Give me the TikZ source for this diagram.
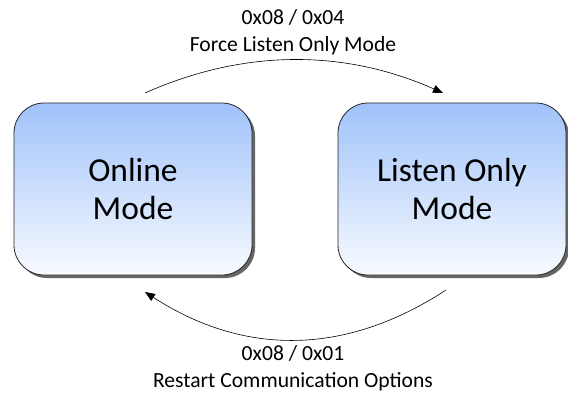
\documentclass[tikz,border=0pt]{standalone}
\usepackage{fontspec}
\setmainfont{Carlito}
\usetikzlibrary{arrows.meta,shadows}
\begin{document}
\begin{tikzpicture}[x=1pt,y=-1pt,
  statebox/.style={draw=black!85, line width=0.8pt, rounded corners=30pt,
    top color={rgb,255:red,160;green,194;blue,250}, bottom color={rgb,255:red,248;green,251;blue,255},
    minimum height=172pt, align=center, font=\fontsize{33.5}{38}\selectfont,
    drop shadow={shadow xshift=3pt, shadow yshift=-3pt, fill=black!60, opacity=1}},
  trans/.style={line width=0.6pt, -{Triangle[length=10pt,width=8pt]}},
  lbl/.style={align=center, font=\fontsize{21.6}{27}\selectfont}]
\useasboundingbox (0,0) rectangle (568,394);
\node[statebox, minimum width=238pt] (L) at (133,189) {Online\\Mode};
\node[statebox, minimum width=228pt] (R) at (452,189) {Listen Only\\Mode};
\coordinate (a1) at (145,93);
\coordinate (a2) at (443,93);
\coordinate (b1) at (446,290);
\coordinate (b2) at (145,292);
\draw[trans] (a1) .. controls (244,49) and (344,49) .. (a2);
\draw[trans] (b1) .. controls (345,356) and (244,356) .. (b2);
\node[lbl] (t) at (293,32) {0x08 / 0x04\\Force Listen Only Mode};
\node[lbl] (b) at (293,368) {0x08 / 0x01\\Restart Communication Options};
\end{tikzpicture}
\end{document}
